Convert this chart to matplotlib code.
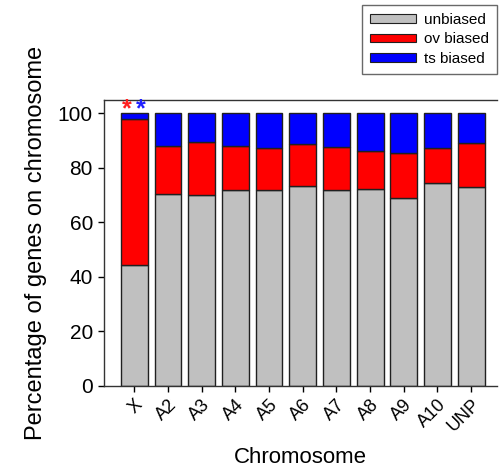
import matplotlib
matplotlib.use("Agg")
import matplotlib.pyplot as plt
from matplotlib.patches import Patch
import numpy as np

plt.rcParams['font.family'] = ['Liberation Sans', 'DejaVu Sans']

chromosomes = ["X", "A2", "A3", "A4", "A5", "A6", "A7", "A8", "A9", "A10", "UNP"]
unbiased = [44.3, 70.5, 70.0, 71.9, 71.8, 73.5, 71.9, 72.4, 69.1, 74.3, 73.1]
ov_biased = [53.5, 17.6, 19.4, 16.2, 15.5, 15.2, 15.8, 13.8, 16.2, 13.0, 16.0]
ts_biased = [100 - u - o for u, o in zip(unbiased, ov_biased)]

series_names = ["unbiased", "ov biased", "ts biased"]
series_colors = ["#c0c0c0", "#ff0000", "#0000ff"]

fig = plt.figure(figsize=(4.99, 4.69), dpi=100)
ax = fig.add_axes([0.2084, 0.178, 0.7876, 0.609])

x = np.arange(len(chromosomes))
bottom = np.zeros(len(chromosomes))
for vals, col in zip([unbiased, ov_biased, ts_biased], series_colors):
    ax.bar(x, vals, width=0.8, bottom=bottom, color=col,
           edgecolor="#202020", linewidth=1.0)
    bottom += np.array(vals)

# significance markers above the X chromosome bar
ax.text(-0.22, 98.8, "*", color="#ff2020", fontsize=18, ha="center",
        va="baseline", fontweight="bold", clip_on=False)
ax.text(0.19, 98.8, "*", color="#2020ff", fontsize=18, ha="center",
        va="baseline", fontweight="bold", clip_on=False)

ax.set_xlim(-0.9, 10.77)
ax.set_ylim(0, 105)
ax.set_yticks([0, 20, 40, 60, 80, 100])
ax.tick_params(axis="y", labelsize=15, direction="out", length=4, width=1,
               pad=4)
ax.set_xticks(x)
ax.set_xticklabels(chromosomes, rotation=45, ha="right",
                   rotation_mode="anchor", fontsize=13)
ax.tick_params(axis="x", direction="out", length=4, width=1)

ax.spines["right"].set_visible(False)
for s in ["left", "bottom", "top"]:
    ax.spines[s].set_color("#333333")
    ax.spines[s].set_linewidth(1.0)

ax.set_xlabel("Chromosome", fontsize=16, labelpad=9)
ax.set_ylabel("Percentage of genes on chromosome", fontsize=17, labelpad=8)

handles = [Patch(facecolor=c, edgecolor="#202020", linewidth=0.8, label=n)
           for n, c in zip(series_names, series_colors)]
fig.legend(handles=handles, loc="upper right", bbox_to_anchor=(0.996, 0.99),
           borderaxespad=0, fontsize=11, frameon=True, fancybox=False,
           edgecolor="#444444", handlelength=3.0, handleheight=0.5,
           handletextpad=0.5, labelspacing=0.35, borderpad=0.55)

fig.savefig("out.png", dpi=100)
